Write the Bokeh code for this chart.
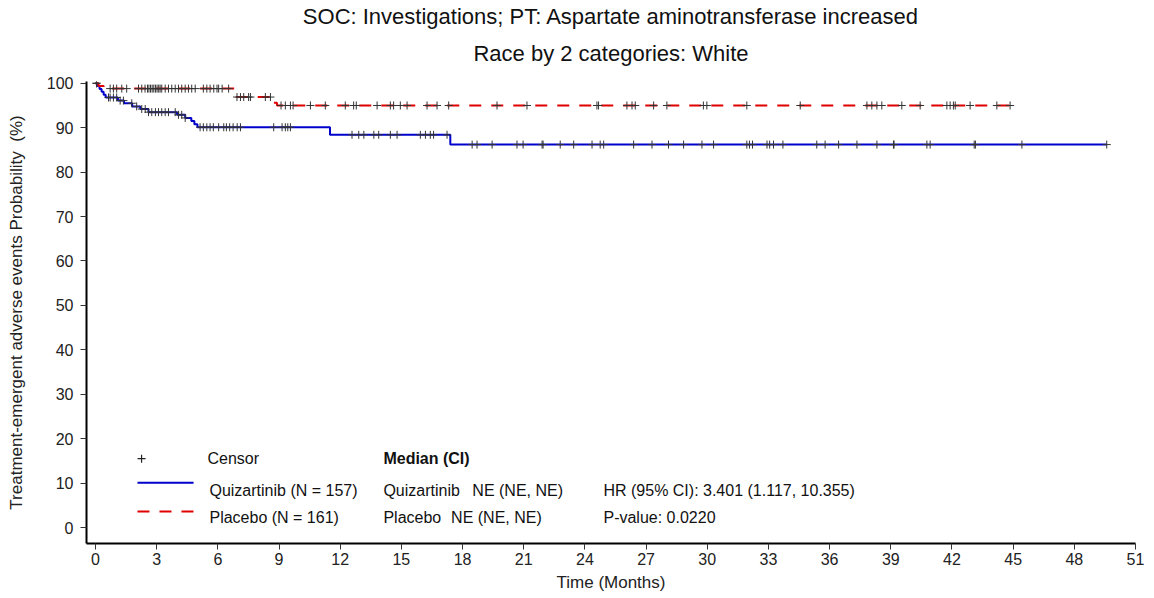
import numpy as np
from bokeh.plotting import figure
from bokeh.models import Range1d, FixedTicker, Title, ColumnDataSource
from bokeh.embed import file_html
from bokeh.resources import INLINE
from bokeh.core.properties import value

# ---------------- data ----------------
title1 = "SOC: Investigations; PT: Aspartate aminotransferase increased"
title2 = "Race by 2 categories: White"
x_label = "Time (Months)"
y_label = "Treatment-emergent adverse events Probability \u00a0(%)"
x_ticks = list(range(0, 52, 3))
y_ticks = list(range(0, 101, 10))

# Quizartinib step curve (time in months, survival %)
quiz_t = [0, 0.1, 0.2, 0.3, 0.4, 0.5, 1.1, 1.4, 1.8, 2.2, 2.6, 4.0, 4.4, 4.7, 4.85, 5.0, 11.5, 17.4]
quiz_s = [100, 99.4, 98.7, 98.1, 97.4, 96.8, 96.1, 95.5, 94.8, 94.2, 93.5, 92.9, 92.2, 91.5, 90.8, 90.1, 88.4, 86.2]
quiz_end = 49.6
quiz_censor = [0.05, 0.64, 0.72, 0.88, 1.04, 1.21, 1.37, 1.78, 2.02, 2.27, 2.44, 2.6, 2.76, 2.94,
               3.09, 3.25, 3.42, 3.58, 3.91, 4.07, 4.23, 4.4, 5.13, 5.29, 5.46, 5.62, 5.78, 6.04,
               6.29, 6.42, 6.58, 6.75, 6.95, 7.11, 8.74, 9.15, 9.31, 9.43, 9.56, 12.58, 12.91,
               13.16, 13.65, 13.89, 14.46, 14.79, 15.93, 16.18, 16.42, 16.58, 17.24, 18.47, 18.71,
               19.45, 20.67, 20.97, 21.9, 21.95, 22.79, 23.45, 24.35, 24.75, 24.92, 26.39, 27.29,
               28.1, 28.84, 29.74, 30.31, 31.94, 32.07, 32.22, 32.93, 33.06, 33.25, 33.71, 35.37,
               35.78, 36.44, 37.34, 38.32, 39.13, 39.16, 40.77, 40.93, 43.09, 43.15, 45.43, 49.59]

# Placebo step curve
plac_t = [0, 0.15, 0.4, 6.8, 6.85, 8.7, 8.9]
plac_s = [100, 99.4, 98.8, 97.5, 96.9, 95.6, 95.0]
plac_end = 45.0
plac_censor = [0.05, 0.72, 0.88, 1.04, 1.29, 1.53, 2.11, 2.27, 2.43, 2.55, 2.62, 2.7, 2.78, 2.86,
               2.94, 3.02, 3.1, 3.17, 3.25, 3.42, 3.58, 3.74, 3.91, 4.07, 4.23, 4.4, 4.56, 4.72,
               4.89, 5.29, 5.46, 5.62, 5.8, 5.96, 6.04, 6.21, 6.53, 6.94, 7.11, 7.27, 7.51, 7.6,
               8.33, 8.58, 9.1, 9.31, 9.56, 9.69, 10.54, 11.27, 12.25, 12.66, 12.79, 13.81, 14.46,
               14.62, 14.95, 15.28, 16.26, 16.75, 17.32, 19.69, 21.16, 24.59, 24.67, 26.06, 26.31,
               26.47, 27.37, 28.02, 29.81, 29.98, 31.94, 34.56, 37.83, 38.07, 38.32, 38.56, 39.54,
               40.44, 41.75, 41.91, 42.07, 42.16, 42.89, 44.2, 44.85]

groups = ["Quizartinib", "Placebo"]
group_n = [157, 161]
median_txt = ["NE (NE, NE)", "NE (NE, NE)"]
hr_txt = "HR (95% CI): 3.401 (1.117, 10.355)"
p_txt = "P-value: 0.0220"

BLUE = "#0000CD"
RED = "#E00000"
FONT = "Liberation Sans"


def level_at(times, levels, t):
    idx = np.searchsorted(np.array(times), np.array(t), side="right") - 1
    return list(np.array(levels)[idx])


p = figure(width=1150, height=595, x_range=Range1d(-0.44, 51), y_range=Range1d(-3.6, 100.4),
           output_backend="svg", toolbar_location=None,
           min_border_left=86, min_border_right=15, min_border_top=81, min_border_bottom=52)
p.outline_line_color = None
p.xgrid.visible = False
p.ygrid.visible = False
p.background_fill_color = "white"
p.border_fill_color = "white"

for ax in (p.xaxis[0], p.yaxis[0]):
    ax.axis_line_width = 2
    ax.axis_line_color = "black"
    ax.major_tick_line_color = "#333333"
    ax.major_tick_out = 6
    ax.major_tick_in = 0
    ax.minor_tick_line_color = None
    ax.major_label_text_font = FONT
    ax.major_label_text_font_size = "16px"
    ax.major_label_text_color = "#222222"
    ax.axis_label_text_font = FONT
    ax.axis_label_text_font_size = "17px"
    ax.axis_label_text_font_style = "normal"
    ax.axis_label_text_color = "#222222"

p.xaxis.ticker = FixedTicker(ticks=x_ticks)
p.yaxis.ticker = FixedTicker(ticks=y_ticks)
p.xaxis.axis_label = x_label
p.yaxis.axis_label = y_label
p.xaxis.major_label_standoff = 3
p.xaxis.axis_label_standoff = 5
p.yaxis.major_label_standoff = 7
p.yaxis.axis_label_standoff = 18

# titles (first added sits nearest the frame)
p.add_layout(Title(text=title2, align="center", text_font=FONT, text_font_size="22px",
                   text_font_style="normal", text_color="#111111", standoff=32), "above")
p.add_layout(Title(text=title1, align="center", text_font=FONT, text_font_size="22px",
                   text_font_style="normal", text_color="#111111", standoff=-13), "above")

# curves
p.step(quiz_t + [quiz_end], quiz_s + [quiz_s[-1]], mode="after", line_color=BLUE, line_width=2)
p.step(plac_t + [plac_end], plac_s + [plac_s[-1]], mode="after", line_color=RED, line_width=2,
       line_dash="12 10")

# censor marks
p.scatter(quiz_censor, level_at(quiz_t, quiz_s, quiz_censor), marker="cross", size=8,
          line_color="#333333", line_width=1)
p.scatter(plac_censor, level_at(plac_t, plac_s, plac_censor), marker="cross", size=8,
          line_color="#333333", line_width=1)

# legend block
p.scatter([2.26], [15.5], marker="cross", size=8, line_color="#222222", line_width=1.2)
p.line([2.06, 4.81], [10.1, 10.1], line_color=BLUE, line_width=2)
p.line([2.06, 4.81], [3.6, 3.6], line_color=RED, line_width=2, line_dash="12 10")

leg_src = ColumnDataSource(dict(
    x=[5.49, 5.59, 5.59, 14.12, 14.12, 18.48, 14.12, 17.44, 24.91, 24.91],
    y=[15.5, 8.33, 2.25, 15.5, 8.33, 8.33, 2.25, 2.25, 8.33, 2.25],
    t=["Censor", f"{groups[0]} (N = {group_n[0]})", f"{groups[1]} (N = {group_n[1]})",
       "Median (CI)", groups[0], median_txt[0], groups[1], median_txt[1], hr_txt, p_txt],
    s=["normal", "normal", "normal", "bold", "normal", "normal", "normal", "normal", "normal", "normal"],
))
p.text(x="x", y="y", text="t", source=leg_src, text_font=value(FONT),
       text_font_size=value("16px"), text_font_style="s", text_baseline="middle",
       text_align="left", text_color="#111111")

open("out.html", "w").write(file_html(p, INLINE))
